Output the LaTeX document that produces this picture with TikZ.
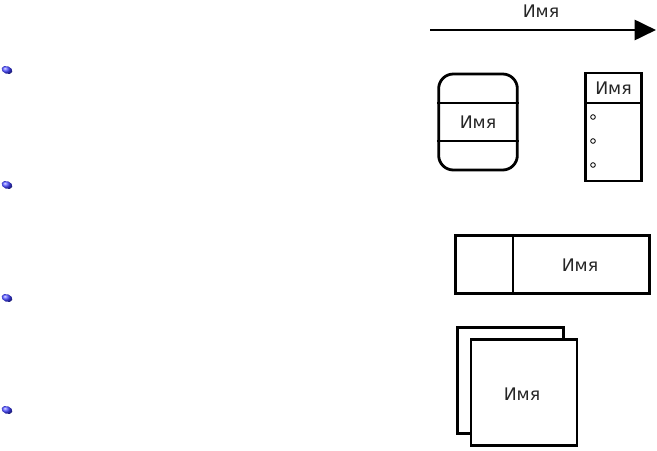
\documentclass[tikz,border=0pt]{standalone}
\usepackage{fontspec}
\setmainfont{DejaVu Sans}
\usetikzlibrary{arrows.meta,positioning}

\begin{document}
\begin{tikzpicture}[
  x=0.75pt, y=-0.75pt,
  box/.style={draw, line width=2.1pt, fill=white, inner sep=0pt},
  lbl/.style={font=\fontsize{13}{15}\selectfont, text=black!85},
  port/.style={draw, circle, line width=0.6pt, inner sep=0pt, minimum size=3.5pt},
  >=Triangle
]
\useasboundingbox (0,0) rectangle (657,450);

% Bullets
\foreach \y in {70,185,298,410}
  \shade[ball color=blue!75, rotate around={-20:(7,\y)}] (7,\y) ellipse (5.6 and 3.8);

% Arrow
\coordinate (a1) at (430,30);
\coordinate (a2) at (656,30);
\draw[line width=2.1pt, -{Triangle[length=16pt,width=15pt]}] (a1) -- (a2);
\node[lbl] (alabel) at (541,11) {Имя};

% Rounded box
\node[box, rounded corners=11pt, minimum width=59pt, minimum height=72pt] (rbox) at (478,122) {};
\node[lbl] (rlabel) at (478,122) {Имя};
\draw[line width=2.1pt] (rbox.west |- 0,103) -- (rbox.east |- 0,103);
\draw[line width=2.1pt] (rbox.west |- 0,141) -- (rbox.east |- 0,141);

% Box with ports
\node[box, minimum width=42pt, minimum height=81pt] (pbox) at (613.5,127) {};
\node[lbl] (plabel) at (613.5,88.5) {Имя};
\draw[line width=2.1pt] (pbox.west |- 0,103) -- (pbox.east |- 0,103);
\foreach \y [count=\i] in {117,141,165}
  \node[port] (p\i) at (593,\y) {};

% Wide box
\node[box, minimum width=146pt, minimum height=44pt] (wbox) at (552.5,264.5) {};
\node[lbl] (wlabel) at (580,265) {Имя};
\draw[line width=2.1pt] (wbox.north -| 513,0) -- (wbox.south -| 513,0);

% Stacked squares
\node[box, minimum width=80pt, minimum height=79pt] (back) at (510.5,380.5) {};
\node[box, minimum width=79.5pt, minimum height=79pt] (front) at (524,392.5) {};
\node[lbl] (slabel) at (522,394) {Имя};

\end{tikzpicture}
\end{document}
